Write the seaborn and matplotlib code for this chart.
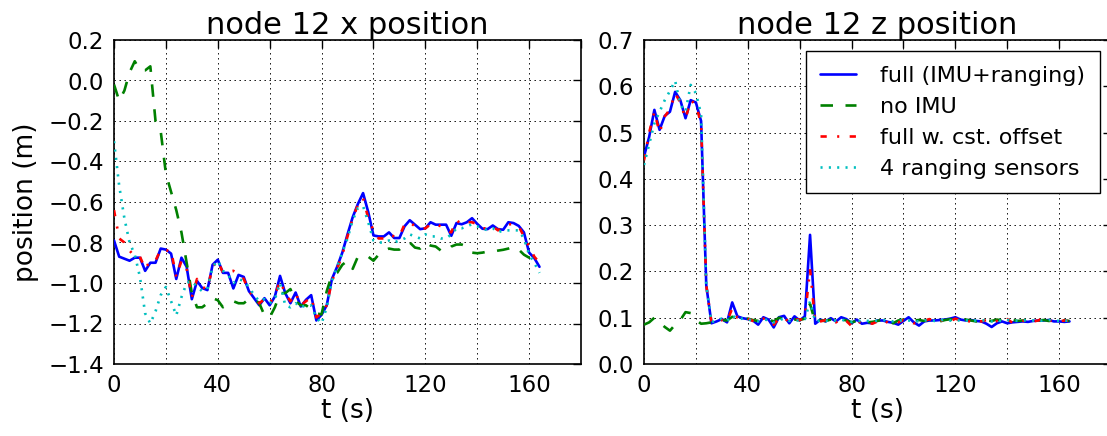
import numpy as np
import matplotlib
matplotlib.use("Agg")
import matplotlib.pyplot as plt
import seaborn as sns

# ---------------- data ----------------
t = [0, 2, 4, 6, 8, 10, 12, 14, 16, 18, 20, 22, 24, 26, 28, 30, 32, 34, 36, 38,
     40, 42, 44, 46, 48, 50, 52, 54, 56, 58, 60, 62, 64, 66, 68, 70, 72, 74, 76, 78,
     80, 82, 84, 86, 88, 90, 92, 94, 96, 98, 100, 102, 104, 106, 108, 110, 112, 114, 116, 118,
     120, 122, 124, 126, 128, 130, 132, 134, 136, 138, 140, 142, 144, 146, 148, 150, 152, 154, 156, 158,
     160, 162, 164]

# node 12 x position
x_full = [-0.79, -0.87, -0.88, -0.89, -0.875, -0.875, -0.94, -0.90, -0.90, -0.83,
          -0.835, -0.855, -0.98, -0.875, -0.92, -1.08, -0.99, -1.025, -1.035, -0.91,
          -0.885, -0.95, -0.95, -1.027, -0.96, -0.97, -1.04, -1.075, -1.11, -1.075,
          -1.11, -1.067, -0.965, -1.05, -1.10, -1.047, -1.116, -1.083, -1.06, -1.185,
          -1.157, -1.11, -0.98, -0.92, -0.85, -0.76, -0.675, -0.61, -0.556, -0.65,
          -0.765, -0.77, -0.77, -0.75, -0.778, -0.778, -0.72, -0.69, -0.712, -0.734,
          -0.73, -0.70, -0.712, -0.712, -0.712, -0.767, -0.704, -0.71, -0.70, -0.68,
          -0.708, -0.732, -0.734, -0.716, -0.734, -0.737, -0.70, -0.704, -0.718, -0.75,
          -0.85, -0.877, -0.92]
x_noimu = [-0.02, -0.10, -0.05, 0.04, 0.095, 0.05, 0.05, 0.07, -0.20, -0.25,
           -0.46, -0.55, -0.64, -0.75, -0.90, -1.05, -1.12, -1.12, -1.10, -1.075,
           -1.085, -1.12, -1.10, -1.09, -1.10, -1.10, -1.08, -1.08, -1.10, -1.16,
           -1.17, -1.12, -1.05, -1.05, -1.03, -1.09, -1.11, -1.11, -1.13, -1.15,
           -1.155, -1.04, -0.96, -0.95, -0.91, -0.89, -0.93, -0.87, -0.87, -0.87,
           -0.89, -0.86, -0.84, -0.83, -0.835, -0.835, -0.81, -0.80, -0.825, -0.83,
           -0.80, -0.815, -0.82, -0.84, -0.845, -0.82, -0.81, -0.81, -0.82, -0.85,
           -0.853, -0.85, -0.845, -0.845, -0.84, -0.836, -0.83, -0.82, -0.835, -0.86,
           -0.875, -0.87, -0.87]
x_offset = [-0.64, -0.78, -0.80, -0.84, -0.87, -0.87, -0.93, -0.89, -0.89, -0.835,
            -0.84, -0.84, -0.97, -0.89, -0.93, -1.07, -0.98, -1.02, -1.03, -0.92,
            -0.89, -0.95, -0.945, -0.94, -0.96, -0.98, -1.04, -1.07, -1.10, -1.08,
            -1.10, -1.06, -0.99, -1.05, -1.09, -1.05, -1.11, -1.09, -1.07, -1.17,
            -1.15, -1.11, -0.99, -0.93, -0.86, -0.77, -0.68, -0.615, -0.58, -0.68,
            -0.74, -0.78, -0.78, -0.76, -0.77, -0.77, -0.71, -0.70, -0.72, -0.73,
            -0.73, -0.71, -0.71, -0.72, -0.74, -0.75, -0.69, -0.71, -0.70, -0.70,
            -0.71, -0.73, -0.73, -0.72, -0.74, -0.72, -0.71, -0.71, -0.72, -0.77,
            -0.82, -0.87, -0.90]
x_4sens = [-0.30, -0.52, -0.68, -0.80, -0.86, -0.97, -1.15, -1.20, -1.14, -1.06,
           -1.02, -1.09, -1.16, -1.07, -1.00, -0.99, -1.02, -1.04, -1.03, -0.92,
           -0.89, -0.94, -0.96, -1.00, -0.98, -0.99, -1.02, -1.06, -1.09, -1.08,
           -1.10, -1.08, -1.00, -1.11, -1.12, -1.10, -1.12, -1.11, -1.11, -1.17,
           -1.20, -1.12, -0.99, -0.92, -0.85, -0.78, -0.69, -0.63, -0.62, -0.70,
           -0.79, -0.80, -0.80, -0.79, -0.80, -0.79, -0.78, -0.76, -0.77, -0.78,
           -0.76, -0.77, -0.77, -0.78, -0.78, -0.76, -0.73, -0.73, -0.72, -0.71,
           -0.72, -0.73, -0.74, -0.73, -0.75, -0.74, -0.74, -0.74, -0.74, -0.78,
           -0.86, -0.90, -0.95]

# node 12 z position
z_full = [0.448, 0.491, 0.549, 0.506, 0.536, 0.545, 0.588, 0.570, 0.531, 0.570,
          0.565, 0.525, 0.170, 0.088, 0.092, 0.097, 0.090, 0.133, 0.103, 0.099,
          0.097, 0.094, 0.085, 0.101, 0.096, 0.079, 0.101, 0.104, 0.088, 0.103,
          0.094, 0.103, 0.279, 0.087, 0.096, 0.092, 0.099, 0.092, 0.101, 0.097,
          0.088, 0.096, 0.087, 0.089, 0.088, 0.094, 0.094, 0.091, 0.089, 0.085,
          0.093, 0.101, 0.090, 0.083, 0.092, 0.094, 0.094, 0.095, 0.096, 0.098,
          0.101, 0.096, 0.094, 0.095, 0.093, 0.092, 0.087, 0.080, 0.088, 0.092,
          0.088, 0.090, 0.091, 0.092, 0.091, 0.093, 0.094, 0.094, 0.095, 0.092,
          0.092, 0.091, 0.092]
z_noimu = [0.085, 0.090, 0.100, 0.090, 0.080, 0.072, 0.085, 0.095, 0.112, 0.110,
           0.095, 0.087, 0.088, 0.090, 0.094, 0.095, 0.094, 0.102, 0.099, 0.097,
           0.098, 0.095, 0.093, 0.097, 0.096, 0.092, 0.100, 0.097, 0.094, 0.096,
           0.095, 0.098, 0.130, 0.090, 0.094, 0.093, 0.096, 0.095, 0.097, 0.094,
           0.090, 0.093, 0.092, 0.090, 0.091, 0.093, 0.096, 0.094, 0.088, 0.094,
           0.096, 0.092, 0.094, 0.095, 0.093, 0.096, 0.094, 0.092, 0.095, 0.097,
           0.094, 0.093, 0.096, 0.094, 0.092, 0.095, 0.094, 0.093, 0.096, 0.094,
           0.092, 0.095, 0.093, 0.094, 0.096, 0.093, 0.094, 0.095, 0.093, 0.094,
           0.093, 0.094, 0.093]
z_offset = [0.440, 0.500, 0.545, 0.500, 0.535, 0.550, 0.585, 0.565, 0.530, 0.570,
            0.560, 0.520, 0.170, 0.090, 0.092, 0.095, 0.092, 0.120, 0.100, 0.100,
            0.098, 0.093, 0.090, 0.098, 0.097, 0.085, 0.098, 0.100, 0.090, 0.098,
            0.095, 0.100, 0.205, 0.090, 0.092, 0.095, 0.097, 0.090, 0.098, 0.093,
            0.082, 0.093, 0.088, 0.090, 0.087, 0.092, 0.096, 0.089, 0.092, 0.090,
            0.095, 0.094, 0.088, 0.090, 0.093, 0.097, 0.090, 0.093, 0.095, 0.092,
            0.098, 0.094, 0.096, 0.090, 0.094, 0.092, 0.095, 0.090, 0.093, 0.090,
            0.097, 0.089, 0.090, 0.093, 0.095, 0.092, 0.094, 0.100, 0.093, 0.095,
            0.092, 0.094, 0.093]
z_4sens = [0.430, 0.475, 0.520, 0.545, 0.570, 0.590, 0.612, 0.560, 0.545, 0.603,
           0.585, 0.540, 0.170, 0.090, 0.095, 0.098, 0.093, 0.105, 0.097, 0.098,
           0.096, 0.094, 0.092, 0.096, 0.095, 0.090, 0.095, 0.098, 0.093, 0.096,
           0.093, 0.097, 0.135, 0.092, 0.094, 0.093, 0.095, 0.094, 0.096, 0.093,
           0.091, 0.094, 0.092, 0.093, 0.094, 0.093, 0.095, 0.094, 0.092, 0.093,
           0.095, 0.094, 0.093, 0.092, 0.094, 0.095, 0.093, 0.094, 0.096, 0.094,
           0.093, 0.095, 0.094, 0.093, 0.094, 0.095, 0.093, 0.092, 0.094, 0.093,
           0.095, 0.094, 0.093, 0.094, 0.095, 0.094, 0.093, 0.094, 0.095, 0.094,
           0.093, 0.094, 0.093]

series_labels = ["full (IMU+ranging)", "no IMU", "full w. cst. offset", "4 ranging sensors"]
titles = ["node 12 x position", "node 12 z position"]
xtick_vals = [0, 20, 40, 60, 80, 100, 120, 140, 160, 180]
xtick_labels = ["0", "", "40", "", "80", "", "120", "", "160", ""]

# ---------------- style ----------------
sns.set_theme(style="white")
plt.rcParams.update({
    "font.family": ["DejaVu Sans"],
    "text.color": "black",
    "axes.labelcolor": "black",
    "axes.titlecolor": "black",
    "xtick.labelcolor": "black",
    "ytick.labelcolor": "black",
    "lines.scale_dashes": False,
    "axes.edgecolor": "black",
    "axes.linewidth": 1.2,
    "xtick.direction": "in",
    "ytick.direction": "in",
    "xtick.top": True,
    "ytick.right": True,
    "xtick.major.size": 6,
    "ytick.major.size": 6,
    "xtick.major.width": 1.0,
    "ytick.major.width": 1.0,
    "xtick.color": "black",
    "ytick.color": "black",
    "axes.unicode_minus": True,
})

W, H = 1107, 436
fig = plt.figure(figsize=(W / 100, H / 100), dpi=100)
ax1 = fig.add_axes([114 / W, 72 / H, 467 / W, 324 / H])
ax2 = fig.add_axes([644 / W, 72 / H, 467 / W, 324 / H])

styles = [
    dict(color=(0, 0, 1), linestyle="-"),
    dict(color=(0, 0.5, 0), linestyle=(0, (9, 9))),
    dict(color=(1, 0, 0), linestyle=(0, (4.5, 7.5, 1.5, 7.5))),
    dict(color=(0, 0.75, 0.75), linestyle=(0, (1.5, 4.5))),
]
lw = 1.9

left_series = [x_full, x_noimu, x_offset, x_4sens]
right_series = [z_full, z_noimu, z_offset, z_4sens]

for i in range(4):
    sns.lineplot(x=t, y=left_series[i], ax=ax1, lw=lw, errorbar=None,
                 sort=False, legend=False, zorder=3, **styles[i])
for i in range(4):
    sns.lineplot(x=t, y=right_series[i], ax=ax2, lw=lw, errorbar=None,
                 sort=False, legend=False, zorder=3,
                 label=series_labels[i], **styles[i])

for ax, title in zip((ax1, ax2), titles):
    ax.set_xlim(0, 180)
    ax.set_xticks(xtick_vals)
    ax.set_xticklabels(xtick_labels)
    ax.tick_params(axis="both", labelsize=16.5, pad=7, colors="black")
    ax.grid(True, color="black", linestyle=(0, (1, 2.6)), linewidth=0.7)
    ax.set_axisbelow(False)
    ax.set_title(title, fontsize=22, pad=4, color="black")
    ax.set_xlabel("t (s)", fontsize=19, labelpad=1, color="black")
    for s in ax.spines.values():
        s.set_visible(True)
        s.set_color("black")
        s.set_linewidth(1.2)

ax1.set_ylim(-1.4, 0.2)
ax1.set_yticks([-1.4, -1.2, -1.0, -0.8, -0.6, -0.4, -0.2, 0.0, 0.2])
ax1.set_ylabel("position (m)", fontsize=19, labelpad=7, color="black")
ax2.set_ylim(0.0, 0.7)
ax2.set_yticks([0.0, 0.1, 0.2, 0.3, 0.4, 0.5, 0.6, 0.7])
ax2.set_ylabel("")

handles, labels = ax2.get_legend_handles_labels()
order = [labels.index(l) for l in series_labels]
leg = ax2.legend([handles[k] for k in order], [labels[k] for k in order],
                 loc="upper right", fontsize=16, handlelength=1.6,
                 handletextpad=1.1, borderpad=0.65, labelspacing=0.5,
                 borderaxespad=0.5, fancybox=False, framealpha=1,
                 edgecolor="black")
leg.get_frame().set_linewidth(1.0)
for txt in leg.get_texts():
    txt.set_color("black")
if ax1.get_legend() is not None:
    ax1.get_legend().remove()

fig.savefig("out.png", dpi=100)
